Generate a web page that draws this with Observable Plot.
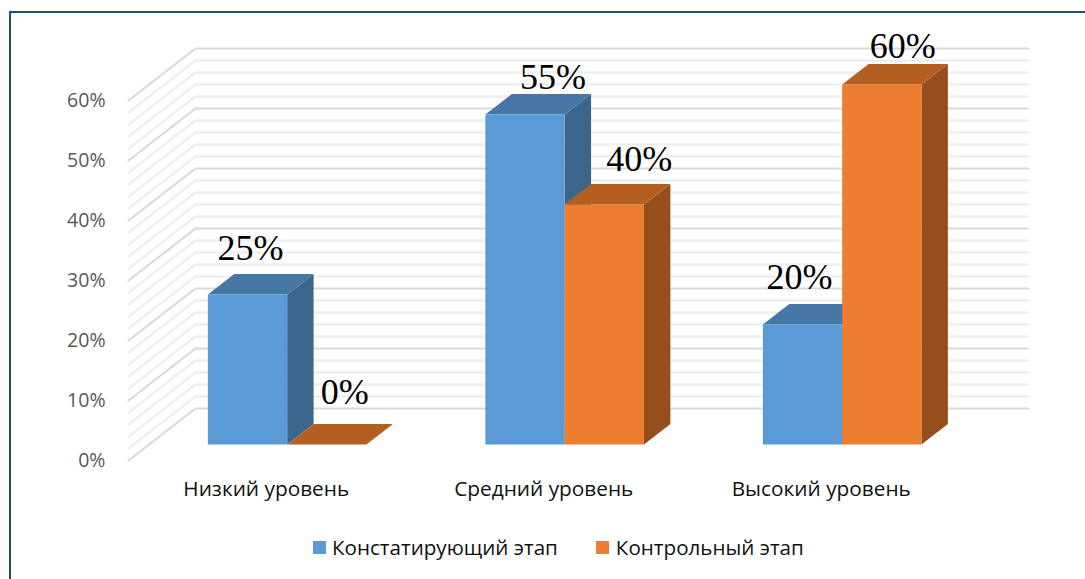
<!DOCTYPE html>
<html><head><meta charset="utf-8">
<script src="https://cdn.jsdelivr.net/npm/d3@7"></script>
<script src="https://cdn.jsdelivr.net/npm/@observablehq/plot@0.6"></script>
<style>
html,body{margin:0;padding:0;background:#fff;overflow:hidden}
#wrap{position:relative;width:1085px;height:579px}
#wrap svg{position:absolute;left:0;top:0;background:transparent}
#border{position:absolute;left:9px;top:11px;right:0;bottom:0;border-left:2px solid #1f4e79;border-top:2px solid #1f4e79}
#legend{position:absolute;left:313px;top:533px;display:flex;align-items:center;font:20.6px "Open Sans",sans-serif;color:#111;white-space:nowrap}
#legend i{display:inline-block;width:13px;height:13px;margin-right:6px}
#legend span{margin-right:38px}
#legend span:last-child{margin-left:1px}
</style></head><body><div id="wrap"><div id="border"></div><div id="legend"></div></div>
<script>
const categories = ["Низкий уровень", "Средний уровень", "Высокий уровень"];
const seriesNames = ["Констатирующий этап", "Контрольный этап"];
const stage1 = [25, 55, 20];
const stage2 = [0, 40, 60];
const yTicks = [0, 10, 20, 30, 40, 50, 60];

const palette = [
  {front: "#5b9bd5", top: "#4676a3", side: "#3b658b"},
  {front: "#ed7d31", top: "#b55e22", side: "#964f1c"}
];
const pxPerCat = 277.5, pxPerPct = 6;
const depthX = 67 / pxPerCat, depthY = 52 / pxPerPct;
const projX = (c, z) => c + z * depthX;
const projY = (v, z) => v + z * depthY;
const barW = 79.3 / pxPerCat, barLeft = -80 / pxPerCat, zF = 16 / 52, zB = 36.5 / 52;
const barX0 = (s, i) => i + 0.5 + barLeft + s * barW;

// oblique faces, back to front
const faces = [];
categories.forEach((_, i) => [stage1, stage2].forEach((vals, s) => {
  const v = vals[i], x0 = barX0(s, i), x1 = x0 + barW;
  const face = (kind, pts) => pts.forEach(([c, val, z]) =>
    faces.push({id: `${i}-${s}-${kind}`, x: projX(c, z), y: projY(val, z), color: palette[s][kind]}));
  face("side", [[x1,0,zF],[x1,0,zB],[x1,v,zB],[x1,v,zF]]);
  face("top", [[x0,v,zF],[x1,v,zF],[x1,v,zB],[x0,v,zB]]);
  if (v > 0) face("front", [[x0,0,zF],[x1,0,zF],[x1,v,zF],[x0,v,zF]]);
}));

// wall and side gridlines
const gridLevels = d3.range(0, 61, 2);
const gridPath = v => [
  {v, x: projX(0, 0), y: projY(v, 0)},
  {v, x: projX(0, 1), y: projY(v, 1)},
  {v, x: projX(3, 1), y: projY(v, 1)}
];
const minor = gridLevels.filter(v => v % 10).flatMap(gridPath);
const major = yTicks.flatMap(gridPath);

const labelNudge = [
  {s:0,i:0,dx:3,dy:-46},{s:1,i:0,dx:18,dy:-52},
  {s:0,i:1,dx:28,dy:-37},{s:1,i:1,dx:35,dy:-45},
  {s:0,i:2,dx:-3,dy:-47},{s:1,i:2,dx:21,dy:-38}
];
const serie = [stage1, stage2];
const labelMarks = labelNudge.map(({s, i, dx, dy}) => {
  const v = serie[s][i];
  return Plot.text([v], {
    x: () => projX(barX0(s, i) + barW / 2, zF),
    y: () => projY(v, zF),
    text: d => d + "%",
    dx, dy,
    fontFamily: "Liberation Serif",
    fontSize: 36,
    fill: "#000",
    lineAnchor: "middle"
  });
});

const chart = Plot.plot({
  width: 1085, height: 579,
  marginLeft: 128, marginRight: 13.5, marginTop: 40, marginBottom: 119,
  x: {domain: [0, 3.4], label: null},
  y: {domain: [0, 70], label: null},
  color: {type: "identity"},
  style: {background: "transparent", overflow: "visible"},
  marks: [
    Plot.line(minor, {x: "x", y: "y", z: "v", stroke: "#efefef", strokeWidth: 2.5, curve: "linear"}),
    Plot.line(major, {x: "x", y: "y", z: "v", stroke: "#d9d9d9", strokeWidth: 2.2, curve: "linear"}),
    Plot.axisY({ticks: yTicks, tickFormat: d => d + "%", tickSize: 0, tickPadding: 23, label: null,
      fontSize: 19.5, fontFamily: "Open Sans", color: "#595959"}),
    Plot.axisX({ticks: [0.5, 1.5, 2.5], tickFormat: d => categories[Math.floor(d)], tickSize: 0, tickPadding: 21, dx: -1, label: null,
      fontSize: 20.8, fontFamily: "Open Sans", color: "#111"}),
    Plot.line(faces, {x: "x", y: "y", z: "id", fill: "color", stroke: "none", curve: "linear-closed"}),
    ...labelMarks
  ]
});
document.getElementById("wrap").appendChild(chart);
const legend = document.getElementById("legend");
seriesNames.forEach((n, s) => {
  const sw = document.createElement("i"); sw.style.background = palette[s].front;
  const t = document.createElement("span"); t.textContent = n;
  legend.append(sw, t);
});
</script></body></html>
